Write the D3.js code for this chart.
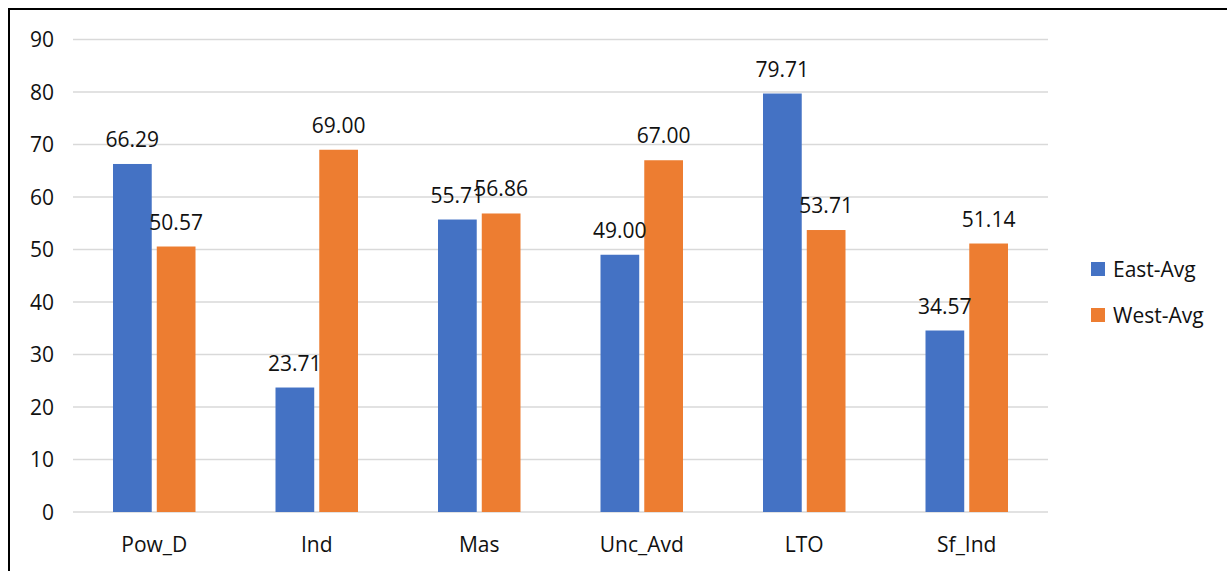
<!DOCTYPE html>
<html>
<head>
<meta charset="utf-8">
<script src="https://cdn.jsdelivr.net/npm/d3@7"></script>
<style>
  html, body { margin: 0; padding: 0; background: #fff; }
  svg { display: block; font-family: "Open Sans", "Liberation Sans", sans-serif; }
</style>
</head>
<body>
<svg id="chart" width="1227" height="571"></svg>
<script>
// Cultural dimension averages, East vs West
const categories = ["Pow_D", "Ind", "Mas", "Unc_Avd", "LTO", "Sf_Ind"];
const seriesNames = ["East-Avg", "West-Avg"];
const eastAvg = [66.29, 23.71, 55.71, 49.00, 79.71, 34.57];
const westAvg = [50.57, 69.00, 56.86, 67.00, 53.71, 51.14];
const yTicks = [0, 10, 20, 30, 40, 50, 60, 70, 80, 90];
const colors = ["#4472C4", "#ED7D31"];

const seriesValues = [eastAvg, westAvg];
const fontSize = 21;
const textColor = "#111";

const svg = d3.select("#chart");

// frame around the chart area
svg.append("rect")
  .attr("x", 9).attr("y", 9)
  .attr("width", 1240).attr("height", 600)
  .attr("fill", "none")
  .attr("stroke", "#000")
  .attr("stroke-width", 2);

const plot = { left: 73, right: 1048, top: 39.5, bottom: 512 };

const x = d3.scaleBand()
  .domain(categories)
  .range([plot.left, plot.right])
  .paddingInner(0)
  .paddingOuter(0);

const inner = d3.scaleBand()
  .domain(seriesNames)
  .range([40, x.bandwidth() - 40])
  .paddingInner(0.115)
  .paddingOuter(0);

const y = d3.scaleLinear()
  .domain([0, 90])
  .range([plot.bottom, plot.top]);

// horizontal gridlines
svg.append("g")
  .selectAll("line")
  .data(yTicks)
  .join("line")
  .attr("x1", plot.left)
  .attr("x2", plot.right)
  .attr("y1", d => y(d))
  .attr("y2", d => y(d))
  .attr("stroke", "#d9d9d9")
  .attr("stroke-width", 1.5);

// y-axis tick labels
const yAxis = d3.axisLeft(y).tickValues(yTicks).tickSize(0).tickPadding(0);
const yg = svg.append("g")
  .attr("transform", `translate(54,0)`)
  .call(yAxis);
yg.select(".domain").remove();
yg.selectAll("text")
  .attr("font-size", fontSize)
  .attr("font-family", "Open Sans, Liberation Sans, sans-serif")
  .attr("fill", textColor)
  .attr("dy", "0.35em");

// x-axis category labels
const xAxis = d3.axisBottom(x).tickSize(0).tickPadding(0);
const xg = svg.append("g")
  .attr("transform", `translate(0,${plot.bottom})`)
  .call(xAxis);
xg.select(".domain").remove();
xg.selectAll("text")
  .attr("font-size", fontSize)
  .attr("font-family", "Open Sans, Liberation Sans, sans-serif")
  .attr("fill", textColor)
  .attr("y", 40)
  .attr("dy", 0);

// bars and value labels
const rows = categories.map((c, i) => ({
  category: c,
  values: seriesNames.map((s, j) => ({ series: s, value: seriesValues[j][i], color: colors[j] }))
}));

const groups = svg.append("g")
  .selectAll("g")
  .data(rows)
  .join("g")
  .attr("transform", d => `translate(${x(d.category)},0)`);

groups.selectAll("rect")
  .data(d => d.values)
  .join("rect")
  .attr("x", d => inner(d.series))
  .attr("width", inner.bandwidth())
  .attr("y", d => y(d.value))
  .attr("height", d => y(0) - y(d.value))
  .attr("fill", d => d.color);

groups.selectAll("text")
  .data(d => d.values)
  .join("text")
  .attr("x", d => inner(d.series) + inner.bandwidth() / 2)
  .attr("y", d => y(d.value) - 17)
  .attr("text-anchor", "middle")
  .attr("font-size", fontSize)
  .attr("fill", textColor)
  .text(d => d.value.toFixed(2));

// legend
const legend = svg.append("g")
  .selectAll("g")
  .data(seriesNames)
  .join("g")
  .attr("transform", (d, i) => `translate(1091,${262 + i * 46})`);

legend.append("rect")
  .attr("width", 14)
  .attr("height", 14)
  .attr("fill", (d, i) => colors[i]);

legend.append("text")
  .attr("x", 22)
  .attr("y", 15)
  .attr("font-size", fontSize)
  .attr("fill", textColor)
  .text(d => d);
</script>
</body>
</html>
